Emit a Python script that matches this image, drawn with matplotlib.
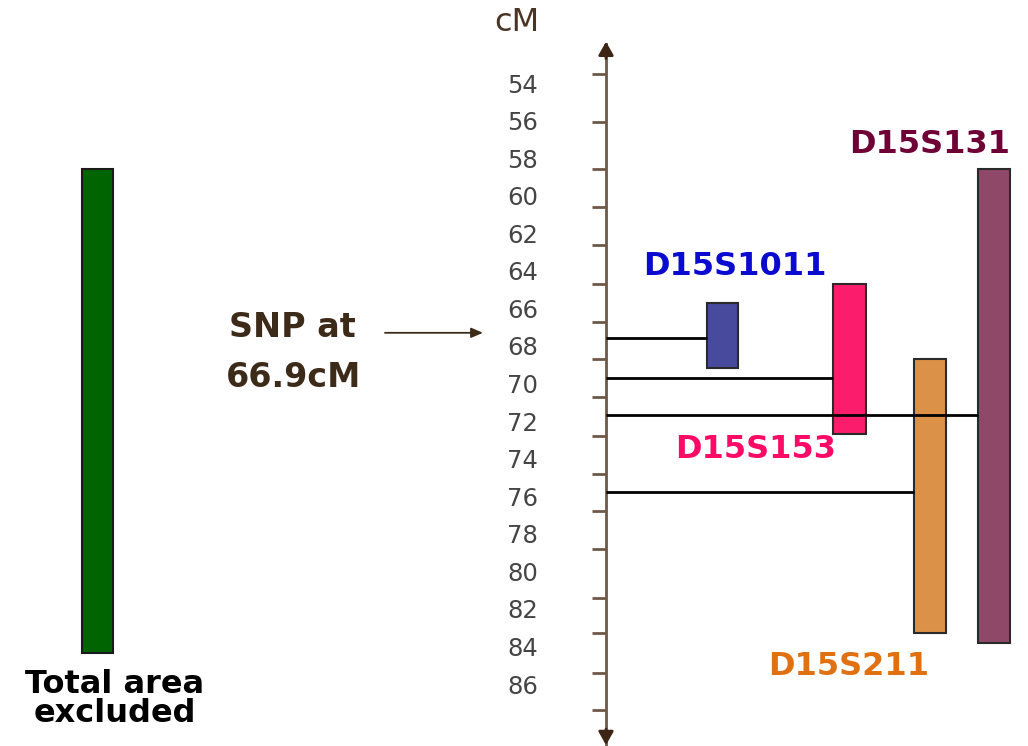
import matplotlib.pyplot as plt

# cM scale of the map
cm_labels = list(range(54, 88, 2))
cm_ticks = [53.5, 56.1, 58.6, 60.6, 62.6, 64.7, 66.7, 68.7, 70.7, 72.8,
            74.8, 76.8, 78.8, 81.4, 83.3, 85.4, 87.4]

# markers: excluded interval and position of each marker line
markers = ['D15S1011', 'D15S153', 'D15S211', 'D15S131']
start_cm = [65.7, 64.7, 68.7, 58.6]
end_cm = [69.2, 72.7, 83.3, 83.8]
pos_cm = [67.6, 69.7, 75.8, 71.7]

total_start = 58.6
total_end = 84.35
snp_cm = 66.9

# layout (x in pixels of the figure)
axis_x = 606
bar_x = [722, 849, 930, 994]
bar_w = [31, 33, 32, 32]
bar_colors = ['#484a9e', '#fc1c6c', '#db9248', '#8f4868']
label_colors = ['#0a0ad0', '#ff0a66', '#e07010', '#6e0036']
label_xy = [(735, 63.75), (756, 73.5), (849, 85.05), (930, 57.25)]
brown = '#6e5848'

fig = plt.figure(figsize=(10.28, 7.46), dpi=100)
ax = fig.add_axes([0, 0, 1, 1])
ax.set_xlim(0, 1028)
ax.set_ylim(89.3, 49.58)

for s in ['top', 'right', 'bottom']:
    ax.spines[s].set_visible(False)
ax.spines['left'].set_position(('data', axis_x))
ax.spines['left'].set_bounds(51.9, 89.3)
ax.spines['left'].set_color(brown)
ax.spines['left'].set_linewidth(2)
ax.set_xticks([])

ax.set_yticks(cm_labels)
ax.set_yticklabels([str(v) for v in cm_labels])
ax.set_yticks(cm_ticks, minor=True)
ax.tick_params(axis='y', which='major', length=0, pad=49,
               labelsize=17.5, labelcolor='#454545')
ax.tick_params(axis='y', which='minor', length=10, width=2,
               color=brown, direction='out')

# arrow heads of the cM axis
ax.annotate('', xy=(axis_x, 51.8), xytext=(axis_x, 52.7),
            arrowprops=dict(arrowstyle='-|>,head_length=0.8,head_width=0.45',
                            color='#3d2414', lw=2, shrinkA=0, shrinkB=0))
ax.annotate('', xy=(axis_x, 89.25), xytext=(axis_x, 88.4),
            arrowprops=dict(arrowstyle='-|>,head_length=0.8,head_width=0.45',
                            color='#3d2414', lw=2, shrinkA=0, shrinkB=0))
ax.text(517, 50.8, 'cM', ha='center', va='center', fontsize=23,
        color='#4a3525')

# total excluded area
ax.bar(97, total_end - total_start, width=31, bottom=total_start,
       color='#006400', edgecolor='#1a1a1a', linewidth=1.5)
ax.text(115, 86.0, 'Total area', ha='center', va='center', fontsize=23,
        fontweight='bold', color='black')
ax.text(115, 87.55, 'excluded', ha='center', va='center', fontsize=23,
        fontweight='bold', color='black')

# marker intervals
for i, name in enumerate(markers):
    ax.bar(bar_x[i], end_cm[i] - start_cm[i], width=bar_w[i],
           bottom=start_cm[i], color=bar_colors[i], edgecolor='#2a2a2a',
           linewidth=1.5, zorder=2)
    ax.hlines(pos_cm[i], axis_x, bar_x[i] - bar_w[i] / 2, color='black',
              lw=2, zorder=3)
    ax.text(label_xy[i][0], label_xy[i][1], name, ha='center', va='center',
            fontsize=23, fontweight='bold', color=label_colors[i])

# SNP label
ax.text(292, 67.0, 'SNP at', ha='center', va='center', fontsize=24,
        fontweight='bold', color='#3d2b1a')
ax.text(294, 69.7, f'{snp_cm}cM', ha='center', va='center', fontsize=24,
        fontweight='bold', color='#3d2b1a')
ax.annotate('', xy=(483, 67.3), xytext=(385, 67.3),
            arrowprops=dict(arrowstyle='-|>,head_length=0.7,head_width=0.3',
                            color='#3d2b1a', lw=1.3, shrinkA=0, shrinkB=0))

fig.savefig('out.png', dpi=100)
